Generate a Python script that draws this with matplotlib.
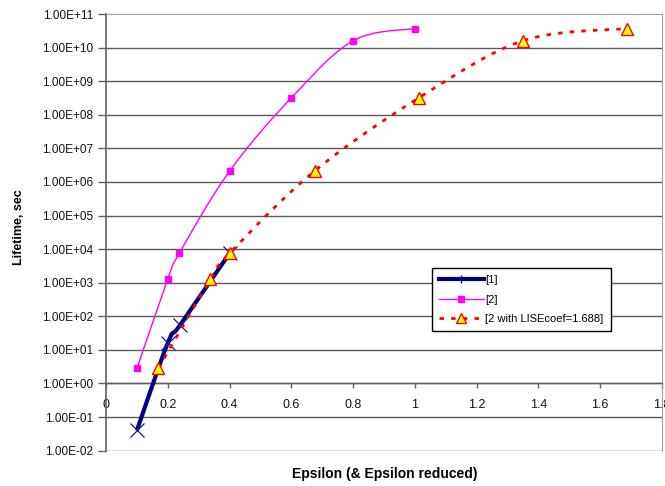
import numpy as np
import matplotlib
matplotlib.use("Agg")
import matplotlib.pyplot as plt
from matplotlib.ticker import FixedLocator, FuncFormatter
from matplotlib.lines import Line2D

plt.rcParams['font.family'] = ['Liberation Sans', 'DejaVu Sans']

# ---- data ----
s1_x = [0.1, 0.2, 0.24, 0.4]
s1_y = [0.04, 16, 55, 7500]

s2_x = [0.1, 0.2, 0.237, 0.4, 0.6, 0.8, 1.0]
s2_y = [2.8, 1250, 7500, 2.1e6, 3.2e8, 1.6e10, 3.7e10]

s3_x = [0.169, 0.338, 0.4, 0.675, 1.013, 1.35, 1.688]
s3_y = [2.8, 1250, 7500, 2.1e6, 3.2e8, 1.6e10, 3.7e10]

labels = ["[1]", "[2]", "[2 with LISEcoef=1.688]"]
x_ticks = [0, 0.2, 0.4, 0.6, 0.8, 1.0, 1.2, 1.4, 1.6, 1.8]
x_tick_labels = ["0", "0.2", "0.4", "0.6", "0.8", "1", "1.2", "1.4", "1.6", "1.8"]
y_decades = list(range(-2, 12))


def smooth(xs, ys, n=40):
    """Excel-like smoothed line (Catmull-Rom Bezier) in (x, log y) space."""
    pts = np.column_stack([np.asarray(xs, float), np.log10(np.asarray(ys, float))])
    t = np.linspace(0, 1, n)[:, None]
    segs = []
    for i in range(len(pts) - 1):
        p0 = pts[i - 1] if i > 0 else pts[i]
        p1, p2 = pts[i], pts[i + 1]
        p3 = pts[i + 2] if i + 2 < len(pts) else pts[i + 1]
        c1 = p1 + (p2 - p0) / 6.0
        c2 = p2 - (p3 - p1) / 6.0
        b = ((1 - t) ** 3) * p1 + 3 * ((1 - t) ** 2) * t * c1 + 3 * (1 - t) * t ** 2 * c2 + t ** 3 * p2
        segs.append(b if i == 0 else b[1:])
    c = np.vstack(segs)
    return c[:, 0], 10 ** c[:, 1]


fig = plt.figure(figsize=(6.65, 4.86), dpi=100)
ax = fig.add_axes([106 / 665, 1 - 450.6 / 486, (662 - 106) / 665, (450.6 - 14) / 486])
ax.set_yscale('log')
ax.set_xlim(0, 1.8)
ax.set_ylim(1e-2, 1e11)

# gridlines
for d in y_decades[:-1]:
    ax.axhline(10.0 ** d, color='#5a5a5a', lw=1.0, zorder=1)

navy = '#000080'
red_dash = (0, (1.6, 2.6))
# series 1
sx, sy = smooth(s1_x, s1_y)
ax.plot(sx, sy, color=navy, lw=3, zorder=3, solid_capstyle='butt')
ax.plot(s1_x, s1_y, ls='none', marker='x', ms=10.5, mew=0.9, color='#1a1a9a', zorder=4)
# series 2
sx, sy = smooth(s2_x, s2_y)
ax.plot(sx, sy, color='#ff00ff', lw=1, zorder=3)
ax.plot(s2_x, s2_y, ls='none', marker='s', ms=4.5, color='#ff00ff', zorder=4)
# series 3
sx, sy = smooth(s3_x, s3_y)
ax.plot(sx, sy, color='#ff0000', lw=2, ls=red_dash, zorder=5)
ax.plot(s3_x, s3_y, ls='none', marker='^', ms=8, mfc='#ffff00', mec='#ff0000', mew=1, zorder=6)

# axes styling
ax.spines['left'].set_color('#606060')
ax.spines['left'].set_linewidth(1.2)
ax.spines['top'].set_color('#a0a0a0')
ax.spines['right'].set_color('#a0a0a0')
ax.spines['bottom'].set_position(('data', 1.0))
ax.spines['bottom'].set_color('#606060')
ax.spines['bottom'].set_linewidth(1.0)

ax.xaxis.set_major_locator(FixedLocator(x_ticks))
ax.set_xticklabels(x_tick_labels)
ax.yaxis.set_major_locator(FixedLocator([10.0 ** d for d in y_decades]))
ax.yaxis.set_minor_locator(FixedLocator([]))
ax.yaxis.set_major_formatter(FuncFormatter(lambda v, p: f"{v:.2E}"))
ax.tick_params(axis='x', direction='out', length=3.5, width=1, color='#606060',
               labelsize=9, labelcolor='#111111', pad=7.5)
ax.tick_params(axis='y', direction='out', length=6, width=1, color='#606060',
               labelsize=8.5, labelcolor='#111111', pad=3)
for lab in ax.get_xticklabels():
    lab.set_clip_on(False)

fig.text(385 / 665, 1 - 474 / 486, "Epsilon (& Epsilon reduced)", fontsize=10,
         fontweight='bold', ha='center', va='center')
fig.text(19 / 665, 1 - 227 / 486, "Lifetime, sec", fontsize=9, fontweight='bold',
         rotation=90, ha='center', va='center')

handles = [
    Line2D([], [], color=navy, lw=3, marker='|', ms=6, mew=1),
    Line2D([], [], color='#ff00ff', lw=1, marker='s', ms=4.5),
    Line2D([], [], color='#ff0000', lw=2, ls=red_dash, marker='^', ms=7,
           mfc='#ffff00', mec='#ff0000'),
]
leg = fig.legend(handles, labels, loc='upper left', bbox_to_anchor=(432 / 665, 1 - 268 / 486),
                 fontsize=8, frameon=True, fancybox=False, framealpha=1, edgecolor='black',
                 handlelength=4, borderpad=0.65, labelspacing=0.85, handletextpad=0.15,
                 borderaxespad=0)
leg.get_frame().set_linewidth(1)

fig.savefig("out.png", dpi=100)
